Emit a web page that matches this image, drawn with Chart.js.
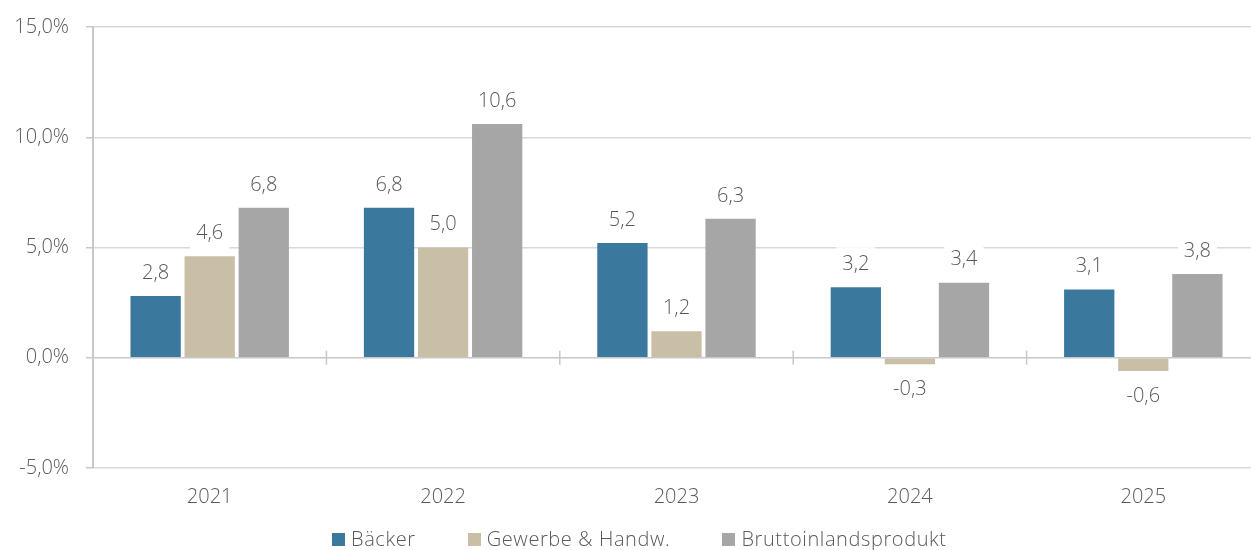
<!DOCTYPE html>
<html>
<head>
<meta charset="utf-8">
<script src="https://cdn.jsdelivr.net/npm/chart.js@4"></script>
<style>
  html, body { margin: 0; padding: 0; background: #fff; overflow: hidden; }
  #wrap { position: relative; width: 1260px; height: 550px; }
  #legende {
    position: absolute; left: 332px; top: 527px;
    display: flex; align-items: center;
    font-family: "Open Sans", sans-serif; font-weight: 300; font-size: 20px; color: #595959;
    line-height: 24px; white-space: nowrap; letter-spacing: 0.6px;
  }
  #legende span.eintrag { display: flex; align-items: center; margin-right: 52px; }
  #legende span.box { display: inline-block; width: 13px; height: 13px; margin-right: 6px; }
</style>
</head>
<body>
<div id="wrap">
  <canvas id="myChart"></canvas>
  <div id="legende"></div>
</div>
<script>
// Daten
const jahre = ['2021', '2022', '2023', '2024', '2025'];
const baecker = [2.8, 6.8, 5.2, 3.2, 3.1];
const gewerbe = [4.6, 5.0, 1.2, -0.3, -0.6];
const bip = [6.8, 10.6, 6.3, 3.4, 3.8];
const serien = ['Bäcker', 'Gewerbe & Handw.', 'Bruttoinlandsprodukt'];
const farben = ['#3b789e', '#c9bfa7', '#a6a6a6'];

const textFarbe = '#595959';
const schrift = 'Open Sans';

function komma(v, stellen) {
   return v.toFixed(stellen).replace('.', ',');
}

// Beschriftungen ueber den Balken, mit weissem Hintergrund
const wertLabels = {
   id: 'wertLabels',
   afterDatasetsDraw(chart) {
      const ctx = chart.ctx;
      ctx.save();
      ctx.font = '300 20px "' + schrift + '"';
      ctx.textAlign = 'center';
      ctx.textBaseline = 'middle';
      chart.data.datasets.forEach((ds, i) => {
         const meta = chart.getDatasetMeta(i);
         meta.data.forEach((bar, j) => {
            const v = ds.data[j];
            const txt = komma(v, 1);
            const y = v >= 0 ? bar.y - 23 : bar.y + 25;
            const w = ctx.measureText(txt).width + 12;
            ctx.fillStyle = '#ffffff';
            ctx.fillRect(bar.x - w / 2, y - 17, w, 34);
            ctx.fillStyle = textFarbe;
            ctx.fillText(txt, bar.x, y);
         });
      });
      ctx.restore();
   }
};

// Nulllinie mit Strichen zwischen den Jahren
const nullLinie = {
   id: 'nullLinie',
   beforeDatasetsDraw(chart) {
      const ctx = chart.ctx;
      const x = chart.scales.x;
      const y0 = chart.scales.y.getPixelForValue(0);
      const area = chart.chartArea;
      ctx.save();
      ctx.strokeStyle = '#c8c8c8';
      ctx.lineWidth = 1.5;
      ctx.beginPath();
      ctx.moveTo(area.left, y0);
      ctx.lineTo(area.right, y0);
      for (let k = 1; k < jahre.length; k++) {
         const xp = (x.getPixelForValue(k - 1) + x.getPixelForValue(k)) / 2;
         ctx.moveTo(xp, y0 - 7);
         ctx.lineTo(xp, y0 + 7);
      }
      ctx.stroke();
      ctx.restore();
   }
};

const data = {
   labels: jahre,
   datasets: [
      { label: serien[0], data: baecker, backgroundColor: farben[0] },
      { label: serien[1], data: gewerbe, backgroundColor: farben[1] },
      { label: serien[2], data: bip, backgroundColor: farben[2] }
   ]
};

const config = {
   type: 'bar',
   data: data,
   options: {
      responsive: true,
      maintainAspectRatio: false,
      animation: false,
      layout: { padding: { top: 8, left: 0, right: 0, bottom: 0 } },
      datasets: {
         bar: {
            categoryPercentage: 0.695,
            barPercentage: 0.93,
            borderWidth: 0
         }
      },
      scales: {
         x: {
            afterFit(scale) { scale.height = 82; },
            grid: { display: false, drawTicks: false },
            border: { display: false },
            ticks: { color: textFarbe, padding: 17, font: { family: schrift, size: 20, weight: 300 } }
         },
         y: {
            min: -5,
            max: 15,
            afterFit(scale) { scale.width = 93; },
            ticks: {
               stepSize: 5,
               color: textFarbe,
               padding: 17,
               font: { family: schrift, size: 20, weight: 300, lineHeight: 1 },
               callback: v => komma(v, 1) + '%'
            },
            grid: {
               color: ctx => ctx.tick && ctx.tick.value === 0 ? 'rgba(0,0,0,0)' : '#d9d9d9',
               lineWidth: 1.5,
               tickLength: 7,
               tickColor: '#c8c8c8'
            },
            border: { display: true, color: '#c8c8c8', width: 2 }
         }
      },
      plugins: {
         legend: { display: false },
         tooltip: { enabled: false }
      }
   },
   plugins: [nullLinie, wertLabels]
};

const myChart = new Chart(document.getElementById('myChart'), config);

// Legende als HTML
const legende = document.getElementById('legende');
serien.forEach((name, i) => {
   const eintrag = document.createElement('span');
   eintrag.className = 'eintrag';
   const box = document.createElement('span');
   box.className = 'box';
   box.style.backgroundColor = farben[i];
   eintrag.appendChild(box);
   eintrag.appendChild(document.createTextNode(name));
   legende.appendChild(eintrag);
});
</script>
</body>
</html>
